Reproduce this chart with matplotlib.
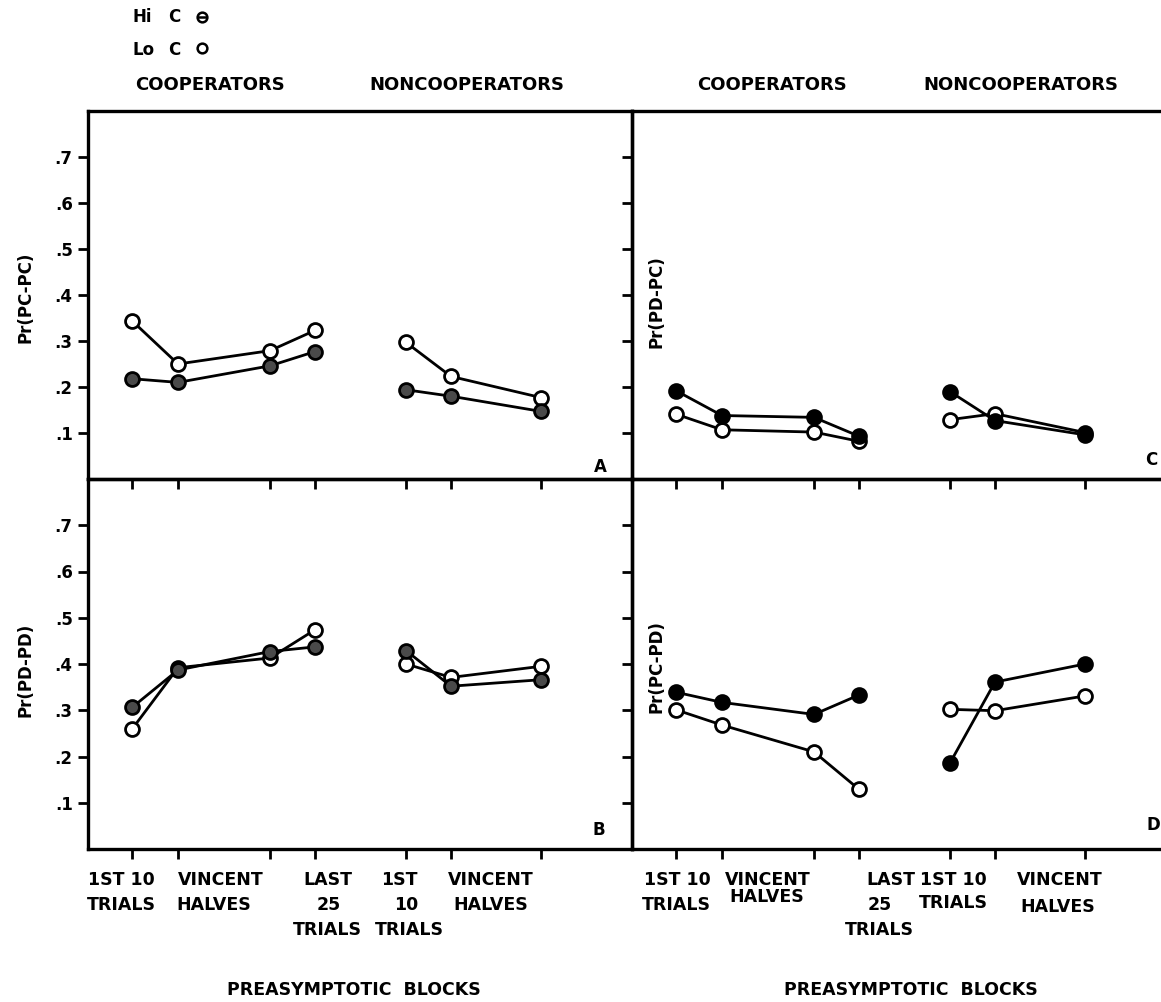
import matplotlib
matplotlib.use("Agg")
import matplotlib.pyplot as plt
from matplotlib.lines import Line2D

W, H = 1161, 1002

# block positions: 4 cooperator blocks, then 3 noncooperator blocks
xpos = [44, 90, 182, 227, 318, 363, 453]
coop = slice(0, 4)
noncoop = slice(4, 7)

yticks = [.1, .2, .3, .4, .5, .6, .7]
yticklabels = ['.1', '.2', '.3', '.4', '.5', '.6', '.7']

# A: Pr(PC-PC)
a_hi = [.218, .210, .246, .277, .194, .180, .147]
a_lo = [.344, .250, .279, .323, .297, .223, .177]
# B: Pr(PD-PD)
b_hi = [.306, .387, .427, .437, .429, .352, .366]
b_lo = [.259, .392, .413, .474, .400, .371, .395]
# C: Pr(PD-PC)
c_hi = [.192, .138, .134, .093, .190, .127, .096]
c_lo = [.141, .107, .102, .082, .129, .142, .101]
# D: Pr(PC-PD)
d_hi = [.339, .317, .291, .333, .186, .361, .400]
d_lo = [.301, .268, .210, .129, .302, .299, .331]

plt.rcParams['font.family'] = ['DejaVu Sans']
plt.rcParams['font.weight'] = 'bold'

fig = plt.figure(figsize=(W / 100, H / 100), dpi=100)
fig.patch.set_facecolor('white')


def fx(x):
    return x / W


def fy(y):
    return 1 - y / H


def panel(x0, y0, x1, y1):
    ax = fig.add_axes([fx(x0), fy(y1), (x1 - x0) / W, (y1 - y0) / H])
    ax.set_facecolor('none')
    ax.set_xlim(0, 544)
    ax.set_ylim(0, 0.8)
    ax.set_xticks(xpos)
    ax.set_xticklabels([])
    ax.set_yticks(yticks)
    ax.tick_params(direction='out', length=7, width=2, color='black')
    for s in ax.spines.values():
        s.set_linewidth(2.4)
    return ax


axA = panel(88, 111, 632, 479)
axC = panel(632, 111, 1176, 479)
axB = panel(88, 479, 632, 849)
axD = panel(632, 479, 1176, 849)

for ax in (axA, axB):
    ax.set_yticklabels(yticklabels, fontsize=12, fontweight='bold')
    ax.tick_params(axis='y', pad=4)
for ax in (axC, axD):
    ax.set_yticklabels([])


def draw(ax, hi, lo, hi_face):
    for part in (coop, noncoop):
        ax.plot(xpos[part], lo[part], '-o', color='black', lw=2, ms=10,
                mfc='white', mec='black', mew=2, zorder=3)
        ax.plot(xpos[part], hi[part], '-o', color='black', lw=2, ms=10,
                mfc=hi_face, mec='black', mew=2, zorder=3)


draw(axA, a_hi, a_lo, '#4a4a4a')
draw(axB, b_hi, b_lo, '#4a4a4a')
draw(axC, c_hi, c_lo, 'black')
draw(axD, d_hi, d_lo, 'black')

# y axis titles
kw = dict(rotation=90, ha='center', va='center', fontsize=12, fontweight='bold')
fig.text(fx(25), fy(297), 'Pr(PC-PC)', **kw)
fig.text(fx(25), fy(670), 'Pr(PD-PD)', **kw)
fig.text(fx(656), fy(302), 'Pr(PD-PC)', **kw)
fig.text(fx(656), fy(667), 'Pr(PC-PD)', **kw)

# panel letters
for x, y, s in [(600, 467, 'A'), (599, 830, 'B'), (1151, 460, 'C'), (1153, 825, 'D')]:
    fig.text(fx(x), fy(y), s, ha='center', va='center', fontsize=12, fontweight='bold')

# headers
for x, s in [(210, 'COOPERATORS'), (467, 'NONCOOPERATORS'),
             (772, 'COOPERATORS'), (1021, 'NONCOOPERATORS')]:
    fig.text(fx(x), fy(85), s, ha='center', va='center', fontsize=13, fontweight='bold')

# legend
fig.text(fx(133), fy(17), 'Hi', ha='left', va='center', fontsize=12, fontweight='bold')
fig.text(fx(168), fy(17), 'C', ha='left', va='center', fontsize=12, fontweight='bold')
fig.text(fx(133), fy(50), 'Lo', ha='left', va='center', fontsize=12, fontweight='bold')
fig.text(fx(168), fy(50), 'C', ha='left', va='center', fontsize=12, fontweight='bold')
fig.add_artist(Line2D([fx(202)], [fy(17)], transform=fig.transFigure, marker='o',
                      ms=7, mfc='white', mec='black', mew=1.8, ls='none'))
fig.add_artist(Line2D([fx(202)], [fy(17)], transform=fig.transFigure, marker='_',
                      ms=7, mec='black', mew=1.8, ls='none'))
fig.add_artist(Line2D([fx(202)], [fy(48)], transform=fig.transFigure, marker='o',
                      ms=7, mfc='white', mec='black', mew=1.8, ls='none'))

# block labels under the bottom panels
rows = [880, 905, 930]
left_labels = [(121, 0, '1ST 10'), (221, 0, 'VINCENT'), (328, 0, 'LAST'),
               (399, 0, '1ST'), (491, 0, 'VINCENT'),
               (121, 1, 'TRIALS'), (214, 1, 'HALVES'), (329, 1, '25'),
               (406, 1, '10'), (491, 1, 'HALVES'),
               (327, 2, 'TRIALS'), (409, 2, 'TRIALS')]
right_labels = [(677, 0, '1ST 10'), (768, 0, 'VINCENT'), (891, 0, 'LAST'),
                (953, 0, '1ST 10'), (1060, 0, 'VINCENT'),
                (676, 1, 'TRIALS'), (767, 0.7, 'HALVES'), (880, 1, '25'),
                (953, 0.9, 'TRIALS'), (1058, 1.1, 'HALVES'),
                (879, 2, 'TRIALS')]
for x, r, s in left_labels + right_labels:
    y = rows[0] + r * (rows[1] - rows[0])
    fig.text(fx(x), fy(y), s, ha='center', va='center', fontsize=12.5, fontweight='bold')

fig.text(fx(354), fy(990), 'PREASYMPTOTIC  BLOCKS', ha='center', va='center',
         fontsize=12.5, fontweight='bold')
fig.text(fx(911), fy(990), 'PREASYMPTOTIC  BLOCKS', ha='center', va='center',
         fontsize=12.5, fontweight='bold')

fig.savefig('out.png', dpi=100)
